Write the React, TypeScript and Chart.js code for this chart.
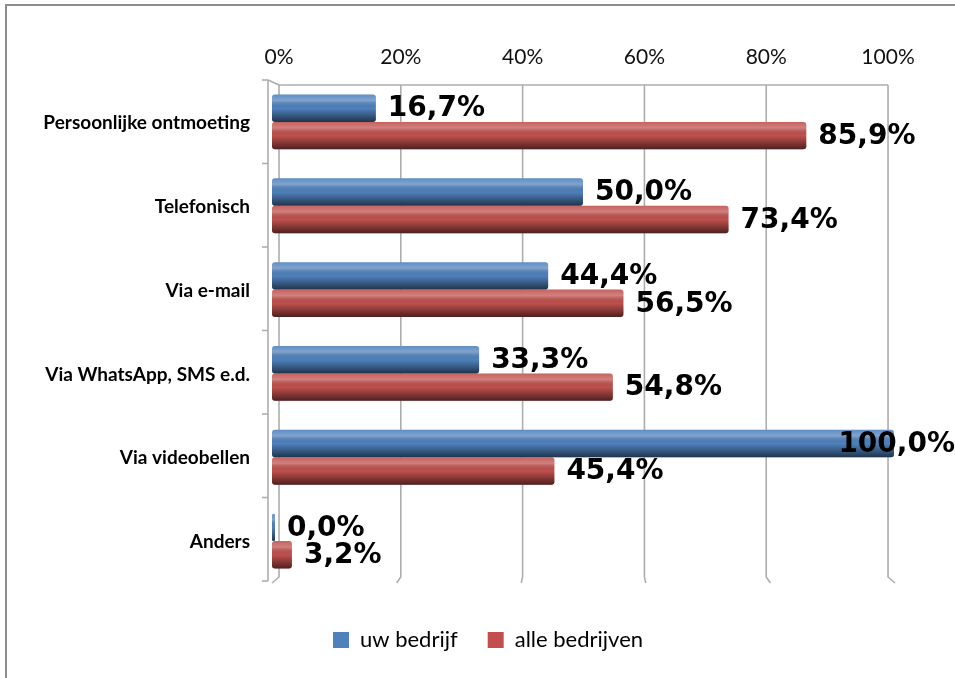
import { useEffect, useRef } from 'react';
import { Chart, registerables } from 'chart.js';

Chart.register(...registerables);

const categories = [
  'Persoonlijke ontmoeting',
  'Telefonisch',
  'Via e-mail',
  'Via WhatsApp, SMS e.d.',
  'Via videobellen',
  'Anders',
];
const uwBedrijf = [16.7, 50.0, 44.4, 33.3, 100.0, 0.0];
const alleBedrijven = [85.9, 73.4, 56.5, 54.8, 45.4, 3.2];
const seriesNames = ['uw bedrijf', 'alle bedrijven'];
const tickValues = [0, 20, 40, 60, 80, 100];

const PAD_L = 12;
const PAD_R = 61;
const PAD_T = 10;
const PAD_B = 17;
const AREA_LEFT = 272;
const AREA_TOP = 80;
const LEGEND_SHIFT = 35;

const fmt = (v: number) => v.toFixed(1).replace('.', ',') + '%';

const wallPlugin = {
  id: 'wall',
  afterLayout(chart: any) {
    if (chart.legend) {
      chart.legend.left += LEGEND_SHIFT;
      chart.legend.right += LEGEND_SHIFT;
    }
  },
  beforeDatasetsDraw(chart: any) {
    const ctx = chart.ctx;
    const s = chart.scales.xBack;
    const { top, bottom, left } = chart.chartArea;
    ctx.save();
    ctx.strokeStyle = '#adadad';
    ctx.lineWidth = 1.6;
    const yT = top + 5;
    const yB = bottom - 6;
    tickValues.forEach((v) => {
      const x = s.getPixelForValue(v);
      const dx = ((v - 50) / 50) * 7;
      ctx.beginPath();
      ctx.moveTo(x, yT);
      ctx.lineTo(x, yB);
      ctx.lineTo(x + dx, yB + 6);
      ctx.stroke();
    });
    ctx.beginPath();
    ctx.moveTo(s.getPixelForValue(0), yT);
    ctx.lineTo(s.getPixelForValue(100), yT);
    ctx.stroke();
    // front axis
    const fx = left - 4;
    ctx.beginPath();
    ctx.moveTo(fx, top);
    ctx.lineTo(fx, bottom - 2);
    ctx.stroke();
    ctx.beginPath();
    ctx.moveTo(fx, top);
    ctx.lineTo(s.getPixelForValue(0), yT);
    ctx.stroke();
    const n = categories.length;
    for (let i = 0; i <= n; i++) {
      const y = top + (i * (bottom - top - 2)) / n;
      ctx.beginPath();
      ctx.moveTo(fx - 6, y);
      ctx.lineTo(fx, y);
      ctx.stroke();
    }
    ctx.restore();
  },
  afterDatasetsDraw(chart: any) {
    const ctx = chart.ctx;
    // cylinder shading
    chart.data.datasets.forEach((ds: any, di: number) => {
      const meta = chart.getDatasetMeta(di);
      meta.data.forEach((bar: any) => {
        const { x, y, base, height } = bar.getProps(['x', 'y', 'base', 'height'], true);
        const l = Math.min(x, base);
        const r = Math.max(x, base);
        const t = y - height / 2;
        const b = y + height / 2;
        if (r - l < 0.5) return;
        const g = ctx.createLinearGradient(0, t, 0, b);
        g.addColorStop(0, 'rgba(255,255,255,0.10)');
        g.addColorStop(0.22, 'rgba(255,255,255,0.28)');
        g.addColorStop(0.5, 'rgba(0,0,0,0.0)');
        g.addColorStop(0.82, 'rgba(0,0,0,0.38)');
        g.addColorStop(1, 'rgba(0,0,0,0.6)');
        ctx.save();
        ctx.fillStyle = g;
        ctx.beginPath();
        ctx.roundRect(l, t, r - l, b - t, 3);
        ctx.fill();
        ctx.restore();
      });
    });
    // data labels
    ctx.save();
    ctx.font = 'bold 28px "DejaVu Sans"';
    ctx.fillStyle = '#000';
    ctx.textAlign = 'left';
    ctx.textBaseline = 'middle';
    chart.data.datasets.forEach((ds: any, di: number) => {
      const meta = chart.getDatasetMeta(di);
      meta.data.forEach((bar: any, i: number) => {
        const { x, y } = bar.getProps(['x', 'y'], true);
        const text = fmt(ds.data[i]);
        const w = ctx.measureText(text).width;
        const lx = Math.min(x + 12, chart.width - w);
        ctx.fillText(text, lx, y + 1);
      });
    });
    ctx.restore();
  },
};

export default function App() {
  const ref = useRef<HTMLCanvasElement | null>(null);

  useEffect(() => {
    if (!ref.current) return;
    const chart = new Chart(ref.current, {
      type: 'bar',
      data: {
        labels: categories,
        datasets: [
          {
            label: seriesNames[0],
            data: uwBedrijf,
            backgroundColor: '#4F81BD',
            categoryPercentage: 0.655,
            barPercentage: 1,
            minBarLength: 3,
            borderRadius: 3,
            borderSkipped: false,
          },
          {
            label: seriesNames[1],
            data: alleBedrijven,
            backgroundColor: '#C0504D',
            categoryPercentage: 0.655,
            barPercentage: 1,
            borderRadius: 3,
            borderSkipped: false,
          },
        ],
      },
      options: {
        indexAxis: 'y',
        animation: false,
        responsive: false,
        devicePixelRatio: 1,
        layout: { padding: { left: PAD_L, right: PAD_R, top: PAD_T, bottom: PAD_B } },
        scales: {
          x: { type: 'linear', min: 0, max: 100, display: false },
          xBack: {
            type: 'linear',
            axis: 'x',
            position: 'top',
            min: -1.15,
            max: 100.98,
            grid: { display: false },
            border: { display: false },
            afterBuildTicks: (s: any) => {
              s.ticks = tickValues.map((v) => ({ value: v }));
            },
            afterFit: (s: any) => {
              s.height = AREA_TOP - PAD_T;
            },
            ticks: {
              callback: (v: any) => v + '%',
              font: { family: 'Lato', size: 21 },
              color: '#111',
              padding: 2,
              maxRotation: 0,
            },
          },
          y: {
            type: 'category',
            grid: { display: false },
            border: { display: false },
            afterFit: (s: any) => {
              s.width = AREA_LEFT - PAD_L;
            },
            ticks: {
              font: { family: 'Lato', size: 19, weight: 'bold' },
              color: '#000',
              padding: 14,
              labelOffset: 1,
            },
          },
        } as any,
        plugins: {
          legend: {
            position: 'bottom',
            labels: {
              boxWidth: 16,
              boxHeight: 16,
              padding: 30,
              color: '#000',
              font: { family: 'Lato', size: 22 },
            },
          },
          title: {
            display: true,
            position: 'bottom',
            text: ' ',
            weight: 500,
            padding: { top: 2, bottom: 2 },
            font: { size: 10 },
          } as any,
          tooltip: { enabled: false },
        },
      } as any,
      plugins: [wallPlugin],
    });
    return () => chart.destroy();
  }, []);

  return (
    <div style={{ position: 'absolute', left: 0, top: 0, width: 955, height: 678, background: '#fff' }}>
      <div
        style={{
          position: 'absolute',
          left: 5,
          top: 4,
          width: 948,
          height: 672,
          borderLeft: '2px solid #8c8c8c',
          borderTop: '2px solid #8c8c8c',
        }}
      />
      <canvas ref={ref} width={955} height={678} style={{ position: 'absolute', left: 0, top: 0 }} />
    </div>
  );
}
